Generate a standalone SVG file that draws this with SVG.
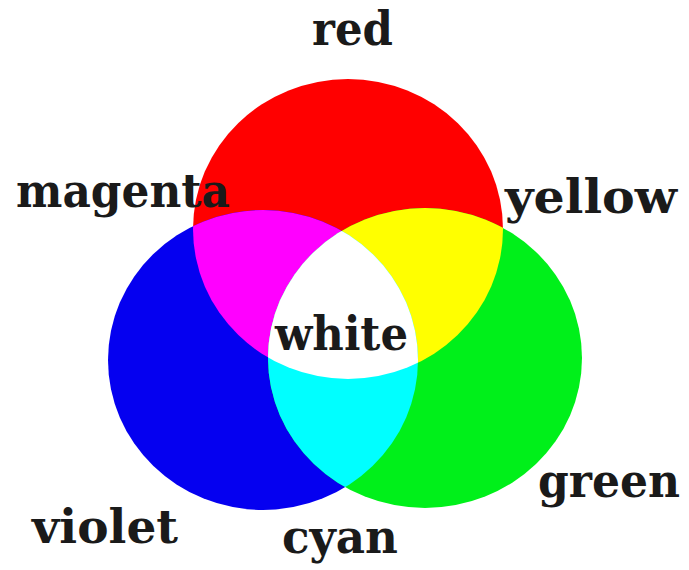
<svg xmlns="http://www.w3.org/2000/svg" width="689" height="570" viewBox="0 0 689 570">
<style>
.lbl{font-family:"DejaVu Serif","Liberation Serif",serif;font-weight:bold;font-size:46px;fill:#1a1a1a}
</style>
<defs>
<ellipse id="eR" cx="348" cy="229" rx="155" ry="150"/>
<ellipse id="eB" cx="263" cy="360" rx="155" ry="150"/>
<ellipse id="eG" cx="425" cy="358" rx="157" ry="150"/>
<clipPath id="cR"><use href="#eR"/></clipPath>
<clipPath id="cB"><use href="#eB"/></clipPath>
</defs>
<rect width="689" height="570" fill="#ffffff"/>
<g id="circles">
<g id="red"><use href="#eR" fill="#ff0000"/></g>
<g id="violet"><use href="#eB" fill="#0500f0"/></g>
<g id="green"><use href="#eG" fill="#00f01a"/></g>
<g id="magenta" clip-path="url(#cR)"><use href="#eB" fill="#ff00ff"/></g>
<g id="yellow" clip-path="url(#cR)"><use href="#eG" fill="#ffff00"/></g>
<g id="cyan" clip-path="url(#cB)"><use href="#eG" fill="#00ffff"/></g>
<g id="white" clip-path="url(#cR)"><g clip-path="url(#cB)"><use href="#eG" fill="#ffffff"/></g></g>
</g>
<g id="labels">
<text class="lbl" x="312" y="45" textLength="81" lengthAdjust="spacingAndGlyphs">red</text>
<text class="lbl" x="16" y="207" textLength="214" lengthAdjust="spacingAndGlyphs">magenta</text>
<text class="lbl" x="505" y="213" textLength="172" lengthAdjust="spacingAndGlyphs">yellow</text>
<text class="lbl" x="275" y="350" textLength="133" lengthAdjust="spacingAndGlyphs">white</text>
<text class="lbl" x="32" y="543" textLength="146" lengthAdjust="spacingAndGlyphs">violet</text>
<text class="lbl" x="282" y="553" textLength="116" lengthAdjust="spacingAndGlyphs">cyan</text>
<text class="lbl" x="538" y="497" textLength="142" lengthAdjust="spacingAndGlyphs">green</text>
</g>
</svg>
